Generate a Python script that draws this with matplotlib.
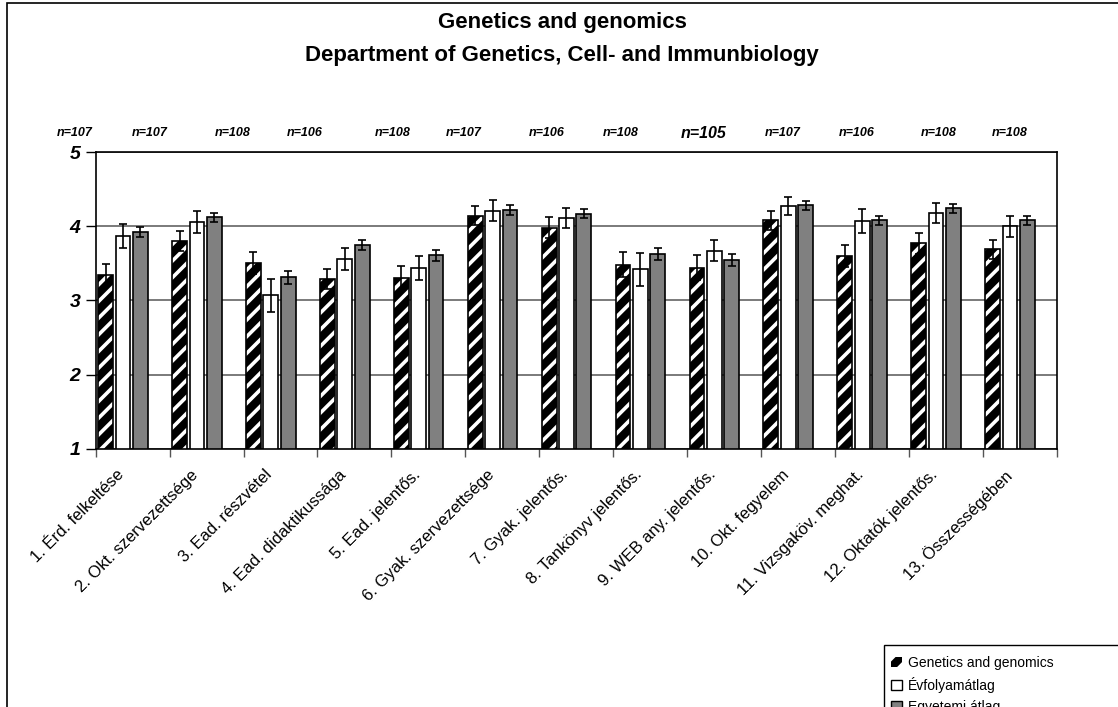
import numpy as np
import matplotlib
matplotlib.use('Agg')
from matplotlib import pyplot as plt
from matplotlib.patches import Patch, Rectangle
from matplotlib.transforms import ScaledTranslation

plt.rcParams['font.family'] = ['Liberation Sans', 'DejaVu Sans']
plt.rcParams['hatch.linewidth'] = 2.6

categories = ['1. Érd. felkeltése', '2. Okt. szervezettsége', '3. Ead. részvétel',
              '4. Ead. didaktikussága', '5. Ead. jelentős.', '6. Gyak. szervezettsége',
              '7. Gyak. jelentős.', '8. Tankönyv jelentős.', '9. WEB any. jelentős.',
              '10. Okt. fegyelem', '11. Vizsgaköv. meghat.', '12. Oktatók jelentős.',
              '13. Összességében']

genetics = [3.34, 3.80, 3.50, 3.29, 3.30, 4.14, 3.98, 3.48, 3.44, 4.08, 3.60, 3.77, 3.69]
genetics_err = [0.15, 0.13, 0.15, 0.13, 0.16, 0.13, 0.14, 0.17, 0.17, 0.13, 0.15, 0.14, 0.13]
evfolyam = [3.87, 4.06, 3.07, 3.56, 3.44, 4.21, 4.11, 3.42, 3.67, 4.27, 4.07, 4.18, 4.00]
evfolyam_err = [0.165, 0.15, 0.22, 0.15, 0.16, 0.14, 0.13, 0.22, 0.14, 0.12, 0.16, 0.13, 0.14]
egyetem = [3.92, 4.12, 3.31, 3.75, 3.61, 4.22, 4.17, 3.63, 3.54, 4.28, 4.08, 4.24, 4.08]
egyetem_err = [0.07, 0.06, 0.085, 0.07, 0.075, 0.065, 0.065, 0.08, 0.08, 0.055, 0.06, 0.06, 0.06]

n_labels = ['n=107', 'n=107', 'n=108', 'n=106', 'n=108', 'n=107', 'n=106',
            'n=108', 'n=105', 'n=107', 'n=106', 'n=108', 'n=108']
# hand-placed text boxes, x in category units
n_label_x = [-0.28, 0.735, 1.86, 2.83, 4.02, 4.98, 6.10, 7.10, 8.23, 9.30, 10.30, 11.40, 12.37]

fig = plt.figure(figsize=(11.18, 7.07), dpi=100)
ax = fig.add_axes([0.0856, 0.365, 0.8594, 0.42])

x = np.arange(len(categories))
w = 0.2
step = 0.235
off = 0.035

ekw = dict(ecolor='black', elinewidth=1.2, capsize=3, capthick=1.2)

# hatched series: black face, white stripes, then black outline
ax.bar(x + off, np.array(genetics) - 1, w, bottom=1, align='edge', color='black',
       edgecolor='white', hatch='//', linewidth=0, zorder=3)
ax.bar(x + off, np.array(genetics) - 1, w, bottom=1, align='edge', fill=False,
       edgecolor='black', linewidth=1.2, zorder=4)
ax.errorbar(x + off + w / 2, genetics, yerr=genetics_err, fmt='none', zorder=5, **ekw)

ax.bar(x + off + step, np.array(evfolyam) - 1, w, bottom=1, align='edge', color='white',
       edgecolor='black', linewidth=1.2, zorder=3)
ax.errorbar(x + off + step + w / 2, evfolyam, yerr=evfolyam_err, fmt='none', zorder=5, **ekw)

ax.bar(x + off + 2 * step, np.array(egyetem) - 1, w, bottom=1, align='edge', color='#808080',
       edgecolor='black', linewidth=1.2, zorder=3)
ax.errorbar(x + off + 2 * step + w / 2, egyetem, yerr=egyetem_err, fmt='none', zorder=5, **ekw)

ax.set_xlim(0, len(categories))
ax.set_ylim(1, 5)
ax.set_yticks([1, 2, 3, 4, 5])
ax.set_yticklabels(['1', '2', '3', '4', '5'], fontsize=14, fontweight='bold', fontstyle='italic')
ax.tick_params(axis='y', length=7, width=1, color='black', pad=4)
ax.yaxis.grid(True, color='#707070', linewidth=1.3, zorder=0)
ax.set_axisbelow(True)

ax.set_xticks(np.arange(len(categories) + 1))
ax.set_xticklabels([])
ax.tick_params(axis='x', which='major', length=6, width=1, color='#555555')
ax.set_xticks(x + 0.5, minor=True)
ax.set_xticklabels(categories, minor=True, rotation=45, ha='right', va='top',
                   rotation_mode='anchor', fontsize=12)
ax.tick_params(axis='x', which='minor', length=0, pad=13)
shift = ScaledTranslation(-16 / 100, 0, fig.dpi_scale_trans)
for t in ax.get_xticklabels(minor=True):
    t.set_transform(t.get_transform() + shift)

for s in ax.spines.values():
    s.set_color('black')
    s.set_linewidth(1.2)

for lbl, xp in zip(n_labels, n_label_x):
    big = lbl == 'n=105'
    ax.text(xp, 5.25, lbl, ha='center', va='center', fontsize=11.5 if big else 9,
            fontweight='bold', fontstyle='italic', clip_on=False)

fig.text(0.503, 0.968, 'Genetics and genomics', ha='center', va='center',
         fontsize=16, fontweight='bold')
fig.text(0.503, 0.921, 'Department of Genetics, Cell- and Immunbiology', ha='center',
         va='center', fontsize=16, fontweight='bold')

# outer chart frame (runs off the right and bottom edges)
fig.patches.append(Rectangle((7 / 1118, -0.2), 1.2, 1.2 - 3 / 707,
                             transform=fig.transFigure, fill=False,
                             edgecolor='black', linewidth=1.2))
# legend box
fig.patches.append(Rectangle((884 / 1118, -0.2), 0.5, 0.2 + 1 - 645 / 707,
                             transform=fig.transFigure, fill=False,
                             edgecolor='black', linewidth=1.0))

handles = [Patch(facecolor='black', edgecolor='white', hatch='//', linewidth=0),
           Patch(facecolor='white', edgecolor='black', linewidth=1),
           Patch(facecolor='#808080', edgecolor='black', linewidth=1)]
fig.legend(handles, ['Genetics and genomics', 'Évfolyamátlag', 'Egyetemi átlag'],
           loc='upper left', bbox_to_anchor=(891 / 1118, 1 - 656 / 707), frameon=False,
           fontsize=10, handlelength=0.8, handleheight=0.8, handletextpad=0.4,
           labelspacing=0.5, borderpad=0, borderaxespad=0)

fig.savefig('out.png', dpi=100)
